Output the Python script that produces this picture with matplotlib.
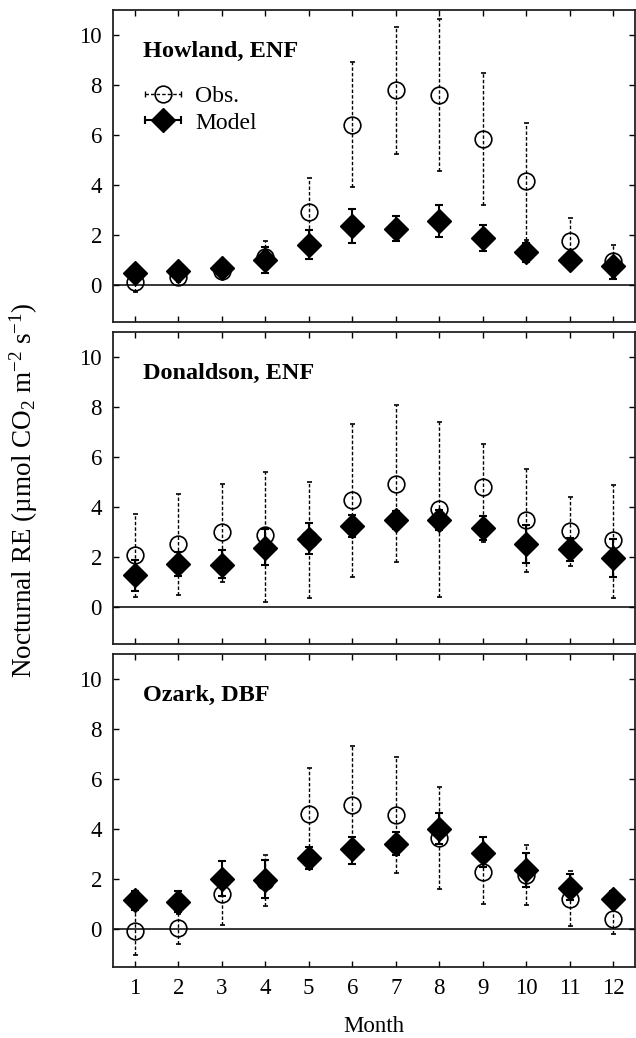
import matplotlib
matplotlib.use("Agg")
import matplotlib.pyplot as plt
from matplotlib.lines import Line2D
from matplotlib.legend_handler import HandlerLine2D
import numpy as np

# Fonts (Times-like look).
plt.rcParams['font.family'] = ['Liberation Serif', 'DejaVu Serif']
plt.rcParams['mathtext.fontset'] = 'custom'
plt.rcParams['mathtext.rm'] = 'Liberation Serif'
plt.rcParams['mathtext.it'] = 'Liberation Serif:italic'

months = list(range(1, 13))
sites = ['Howland, ENF', 'Donaldson, ENF', 'Ozark, DBF']

# Howland, ENF
how_obs = [0.1, 0.3, 0.55, 1.1, 2.9, 6.4, 7.78, 7.6, 5.84, 4.13, 1.73, 0.93]
how_obs_lo = [-0.3, 0.1, 0.3, 0.6, 1.6, 3.9, 5.25, 4.56, 3.2, 1.78, 0.9, 0.3]
how_obs_hi = [0.4, 0.5, 0.8, 1.75, 4.25, 8.9, 10.3, 10.63, 8.46, 6.48, 2.68, 1.6]
how_mod = [0.47, 0.53, 0.67, 0.98, 1.6, 2.34, 2.24, 2.55, 1.87, 1.31, 0.97, 0.73]
how_mod_lo = [0.35, 0.4, 0.5, 0.48, 1.01, 1.67, 1.73, 1.92, 1.33, 0.91, 0.8, 0.24]
how_mod_hi = [0.6, 0.65, 0.85, 1.5, 2.17, 3.02, 2.75, 3.2, 2.4, 1.65, 1.15, 1.0]

# Donaldson, ENF
don_obs = [2.06, 2.51, 2.97, 2.85, 2.7, 4.25, 4.93, 3.9, 4.79, 3.45, 3.02, 2.65]
don_obs_lo = [0.4, 0.47, 0.98, 0.17, 0.36, 1.2, 1.8, 0.4, 2.6, 1.38, 1.63, 0.36]
don_obs_hi = [3.7, 4.5, 4.92, 5.41, 5.01, 7.3, 8.07, 7.4, 6.52, 5.5, 4.38, 4.89]
don_mod = [1.27, 1.71, 1.68, 2.34, 2.71, 3.24, 3.48, 3.48, 3.13, 2.5, 2.31, 1.93]
don_mod_lo = [0.64, 1.23, 1.14, 1.67, 2.11, 2.8, 3.11, 3.07, 2.67, 1.74, 1.83, 1.18]
don_mod_hi = [1.87, 2.2, 2.27, 3.1, 3.34, 3.67, 3.81, 3.88, 3.61, 3.27, 2.74, 2.7]

# Ozark, DBF
oza_obs = [-0.07, 0.07, 1.43, 1.94, 4.63, 4.97, 4.58, 3.67, 2.3, 2.16, 1.23, 0.4]
oza_obs_lo = [-1.04, -0.57, 0.16, 0.93, 3.3, 3.16, 2.26, 1.63, 1.03, 0.96, 0.12, -0.17]
oza_obs_hi = [0.79, 0.63, 2.03, 2.96, 6.43, 7.33, 6.9, 5.7, 3.7, 3.39, 2.34, 1.5]
oza_mod = [1.16, 1.09, 2.03, 1.99, 2.87, 3.23, 3.43, 4.0, 3.07, 2.36, 1.66, 1.21]
oza_mod_lo = [0.79, 0.68, 1.32, 1.27, 2.43, 2.6, 2.98, 3.43, 2.5, 1.7, 1.19, 0.9]
oza_mod_hi = [1.52, 1.52, 2.74, 2.79, 3.3, 3.7, 3.9, 4.67, 3.7, 3.06, 2.23, 1.54]

panels = [
    (how_obs, how_obs_lo, how_obs_hi, how_mod, how_mod_lo, how_mod_hi),
    (don_obs, don_obs_lo, don_obs_hi, don_mod, don_mod_lo, don_mod_hi),
    (oza_obs, oza_obs_lo, oza_obs_hi, oza_mod, oza_mod_lo, oza_mod_hi),
]

fig = plt.figure(figsize=(6.36, 10.38), dpi=100)
W, H = 636.0, 1038.0
boxes = [(10, 322), (332, 644), (654, 967)]
FS = 16.5

axes = []
for i, (top, bot) in enumerate(boxes):
    ax = fig.add_axes([113 / W, 1 - bot / H, (635 - 113) / W, (bot - top) / H])
    obs, olo, ohi, mod, mlo, mhi = [np.array(a) for a in panels[i]]

    ax.axhline(0, color='black', lw=1.1, zorder=1)

    eb = ax.errorbar(months, obs, yerr=[obs - olo, ohi - obs], fmt='o', ms=12,
                     mfc='none', mec='black', mew=1.2, ecolor='black',
                     elinewidth=1.0, capsize=1.8, capthick=1.0, zorder=3)
    eb[2][0].set_linestyle((0, (2.5, 1.5)))
    ax.errorbar(months, mod, yerr=[mod - mlo, mhi - mod], fmt='D', ms=12,
                mfc='black', mec='black', ecolor='black',
                elinewidth=1.5, capsize=3, capthick=1.5, zorder=4)

    ax.set_xlim(0.5, 12.5)
    ax.set_ylim(-1.5, 11)
    ax.set_xticks(months)
    ax.set_yticks([0, 2, 4, 6, 8, 10])
    ax.tick_params(direction='in', top=True, right=True, length=4,
                   width=1, labelsize=FS, pad=8)
    for s in ax.spines.values():
        s.set_linewidth(1.3)
        s.set_color('#222222')
    if i < 2:
        ax.set_xticklabels([])
    ax.text(0.058, 0.868, sites[i], transform=ax.transAxes, fontsize=17.5,
            fontweight='bold', va='center', ha='left')
    axes.append(ax)

axes[2].set_xlabel('Month', fontsize=FS, labelpad=12)
fig.text(24 / W, 1 - 490 / H,
         'Nocturnal RE (µmol CO$_2$ m$^{-2}$ s$^{-1}$)',
         rotation=90, ha='center', va='center', fontsize=19.5)

# Legend handles drawn like the original: horizontal bar with caps + marker.
obs_bar = Line2D([], [], color='black', lw=1.0, ls=(0, (2.5, 1.5)),
                 marker='|', ms=5, mew=1.0)
obs_mk = Line2D([], [], ls='none', marker='o', ms=12, mfc='none',
                mec='black', mew=1.2)
mod_bar = Line2D([], [], color='black', lw=1.5, marker='|', ms=6, mew=1.5)
mod_mk = Line2D([], [], ls='none', marker='D', ms=12, mfc='black', mec='black')
axes[0].legend([(obs_bar, obs_mk), (mod_bar, mod_mk)], ['Obs.', 'Model'],
               handler_map={obs_bar: HandlerLine2D(numpoints=2, marker_pad=0.1),
                            mod_bar: HandlerLine2D(numpoints=2, marker_pad=0.1),
                            obs_mk: HandlerLine2D(numpoints=1),
                            mod_mk: HandlerLine2D(numpoints=1)},
               loc='upper left', bbox_to_anchor=(0.026, 0.81), frameon=False,
               fontsize=17, handlelength=1.7, handletextpad=0.5,
               labelspacing=0.2, borderpad=0.2)

fig.savefig('out.png', dpi=100)
